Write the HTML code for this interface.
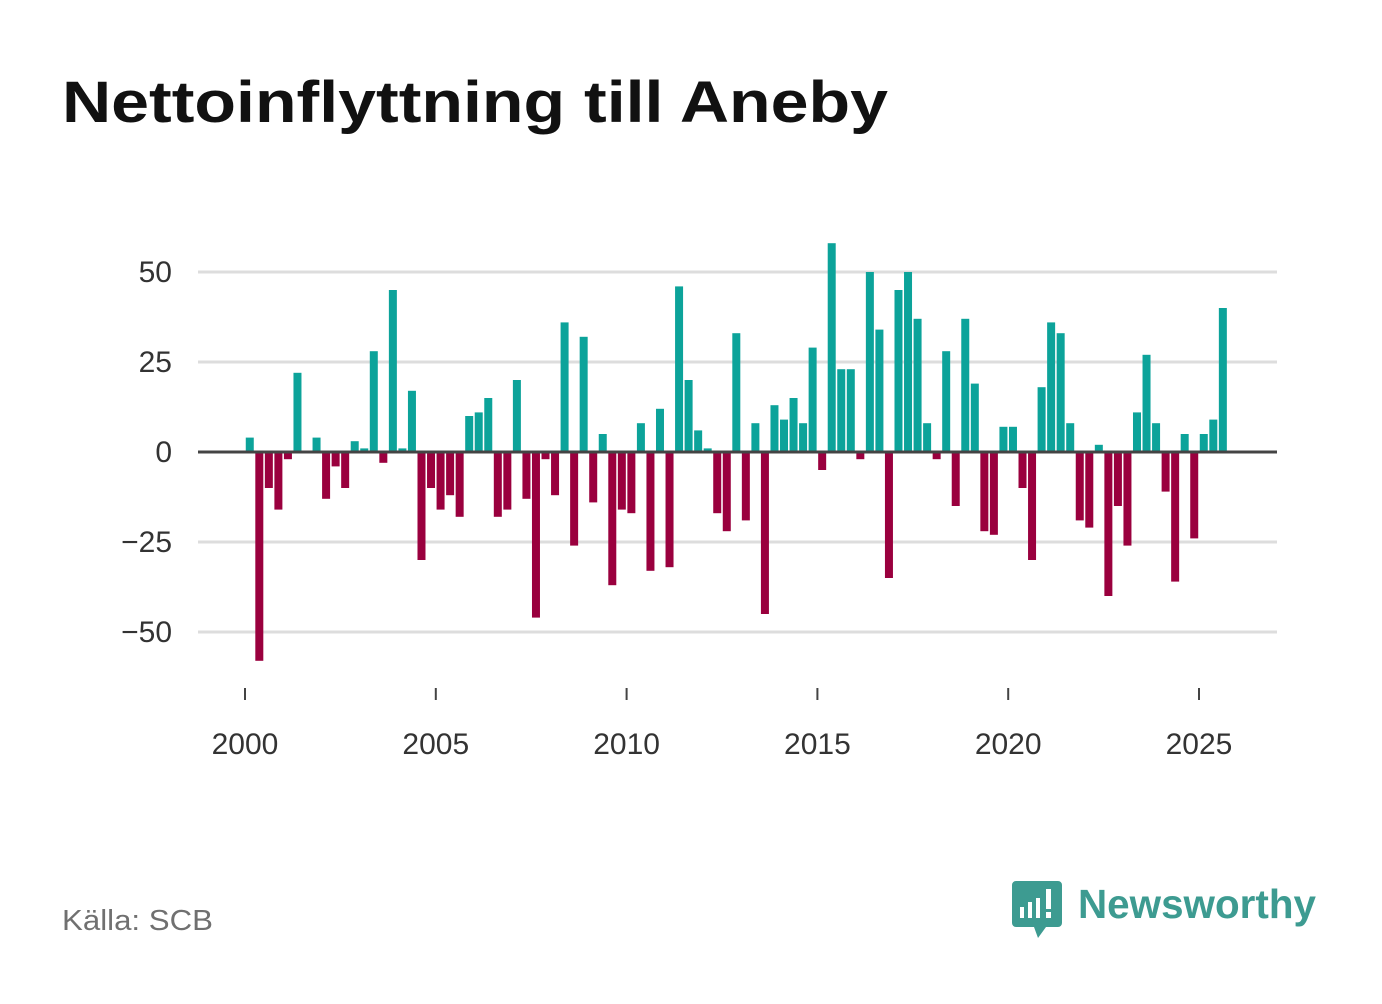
<!DOCTYPE html>
<html><head><meta charset="utf-8"><style>
body{margin:0;background:#fff;width:1382px;height:999px;overflow:hidden;font-family:"Liberation Sans",sans-serif}
</style></head><body>
<svg width="1382" height="999">
<text x="62" y="122" font-size="58" font-weight="bold" fill="#111" textLength="826" lengthAdjust="spacingAndGlyphs">Nettoinflyttning till Aneby</text>
<g id="grid"></g><g id="bars"></g><g id="axes"></g>
<text x="62" y="930" font-size="29" fill="#707070" textLength="151" lengthAdjust="spacingAndGlyphs">Källa: SCB</text>
<g>
<path d="M1016 881h42a4 4 0 0 1 4 4v38a4 4 0 0 1-4 4h-12l-8 11l-4-11h-18a4 4 0 0 1-4-4v-38a4 4 0 0 1 4-4z" fill="#3d9b91"/>
<rect x="1020" y="907" width="4" height="11" fill="#fff"/><rect x="1028" y="902" width="4" height="16" fill="#fff"/><rect x="1036" y="898" width="4" height="20" fill="#fff"/><rect x="1046" y="889" width="5" height="20" fill="#fff"/><rect x="1046" y="912" width="5" height="6" fill="#fff"/>
<text x="1078" y="918" font-size="41" font-weight="bold" fill="#3d9b91" textLength="238" lengthAdjust="spacingAndGlyphs">Newsworthy</text>
</g>
</svg>
<script>
const years=[2000,2005,2010,2015,2020,2025];
const yTicks=[50,25,0,-25,-50];
const yTickLabels=["50","25","0","\u221225","\u221250"];
const values=[4,-58,-10,-16,-2,22,0,4,-13,-4,-10,3,1,28,-3,45,1,17,-30,-10,-16,-12,-18,10,11,15,-18,-16,20,-13,-46,-2,-12,36,-26,32,-14,5,-37,-16,-17,8,-33,12,-32,46,20,6,1,-17,-22,33,-19,8,-45,13,9,15,8,29,-5,58,23,23,-2,50,34,-35,45,50,37,8,-2,28,-15,37,19,-22,-23,7,7,-10,-30,18,36,33,8,-19,-21,2,-40,-15,-26,11,27,8,-11,-36,5,-24,5,9,40];
const NS="http://www.w3.org/2000/svg";
const xs=t=>245+(t-2000)*38.16;
const ys=v=>452-v*3.6;
function mk(tag,attrs,parent){const e=document.createElementNS(NS,tag);for(const k in attrs)e.setAttribute(k,attrs[k]);document.getElementById(parent).appendChild(e);return e;}
yTicks.forEach((v,i)=>{
  if(v!==0){const l=mk('line',{x1:198,x2:1277,y1:ys(v),y2:ys(v),stroke:'#ddd','stroke-width':3},'grid');
  
  }
  const t=mk('text',{x:172,y:ys(v)+10,'text-anchor':'end','font-size':30,fill:'#333'},'axes');t.textContent=yTickLabels[i];
  
  
});
values.forEach((v,i)=>{
  const cx=xs(2000+(i+0.5)/4);
  const r=mk('rect',{x:cx-4,width:8,y:Math.min(ys(v),ys(0)),height:Math.abs(v)*3.6,fill:v>=0?'#0ca39a':'#9a003e'},'bars');
  
  
});
const z=mk('line',{x1:198,x2:1277,y1:ys(0),y2:ys(0),stroke:'#444','stroke-width':3},'axes');


years.forEach(y=>{
  const tk=mk('line',{x1:xs(y),x2:xs(y),y1:688,y2:700,stroke:'#444','stroke-width':2},'axes');
  
  
  const t=mk('text',{x:xs(y),y:754,'text-anchor':'middle','font-size':30,fill:'#333'},'axes');t.textContent=y;
  
  
});
</script>
</body></html>
